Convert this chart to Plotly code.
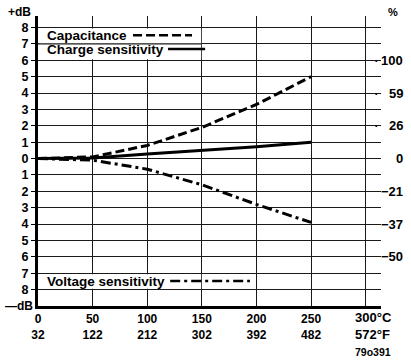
import plotly.graph_objects as go

# ---- data ----
temp_c = [0, 50, 100, 150, 200, 250]
capacitance_db = [0.0, 0.1, 0.8, 1.9, 3.3, 5.0]
charge_db = [0.0, 0.03, 0.28, 0.5, 0.72, 1.0]
voltage_db = [0.0, -0.1, -0.65, -1.6, -2.8, -3.9]

x_ticks_c = [0, 50, 100, 150, 200, 250]
x_ticks_f = [32, 122, 212, 302, 392, 482]
last_c, last_f = 300, 572

db_ticks = list(range(-8, 9))
db_labels = [str(abs(v)) for v in db_ticks]

pct_db = [6, 4, 2, 0, -2, -4, -6]
pct_labels = ["100", "59", "26", "0", "\u221221", "\u221237", "\u221250"]
pct_dots = [6, 4, 2]

legend_names = ["Capacitance", "Charge sensitivity", "Voltage sensitivity"]

# ---- layout constants ----
W, H = 411, 363
ML, MR, MT, MB = 38, 30, 16, 57
PW = W - ML - MR
FONT = "Liberation Sans, Arial, sans-serif"


def px2paper(px):
    return (px - ML) / PW


fig = go.Figure()

line_style = dict(color="black", width=3)
fig.add_trace(go.Scatter(x=temp_c, y=capacitance_db, mode="lines",
                         line=dict(line_style, dash="9px,4px"), name=legend_names[0]))
fig.add_trace(go.Scatter(x=temp_c, y=charge_db, mode="lines",
                         line=line_style, name=legend_names[1]))
fig.add_trace(go.Scatter(x=temp_c, y=voltage_db, mode="lines",
                         line=dict(line_style, dash="10px,4px,3px,4px"), name=legend_names[2]))

shapes = []
# white legend boxes (above grid, below traces)
shapes.append(dict(type="rect", xref="x", yref="y", x0=0.9, x1=149.4, y0=6.06, y1=7.94,
                   fillcolor="white", line=dict(width=0), layer="between"))
shapes.append(dict(type="rect", xref="x", yref="y", x0=0.9, x1=149.4, y0=-7.94, y1=-7.06,
                   fillcolor="white", line=dict(width=0), layer="between"))
# horizontal line through the upper box
shapes.append(dict(type="line", xref="x", yref="y", x0=0, x1=150, y0=7, y1=7,
                   line=dict(color="#1a1a1a", width=1.4), layer="between"))
# legend samples
shapes.append(dict(type="line", xref="x", yref="y", x0=87, x1=141, y0=7.52, y1=7.52,
                   line=dict(color="black", width=2.5, dash="9px,4px")))
shapes.append(dict(type="line", xref="x", yref="y", x0=119, x1=153, y0=6.68, y1=6.68,
                   line=dict(color="black", width=2.5)))
shapes.append(dict(type="line", xref="x", yref="y", x0=121, x1=194, y0=-7.48, y1=-7.48,
                   line=dict(color="black", width=2.5, dash="10px,4px,3px,4px")))

bold = dict(family=FONT, size=13.5, color="black", weight="bold")
annotations = []
for i, (name, yv) in enumerate(zip(legend_names, [7.52, 6.66, -7.48])):
    annotations.append(dict(x=6.2, y=yv, xref="x", yref="y", text=name, showarrow=False,
                            xanchor="left", yanchor="middle", font=bold))

# right % scale
for v, lab in zip(pct_db, pct_labels):
    annotations.append(dict(x=px2paper(405), y=v, xref="paper", yref="y", text=lab,
                            showarrow=False, xanchor="right", yanchor="middle",
                            font=dict(family=FONT, size=13, color="black", weight="bold")))
for v in pct_dots:
    annotations.append(dict(x=px2paper(376), y=v, xref="paper", yref="y", text="\u2022",
                            showarrow=False, xanchor="center", yanchor="middle",
                            font=dict(family=FONT, size=7, color="black")))
annotations.append(dict(x=px2paper(393), y=1, xref="paper", yref="paper", yshift=4,
                        text="%", showarrow=False, xanchor="center", yanchor="middle",
                        font=dict(family=FONT, size=11, color="black", weight="bold")))
# dB markers
annotations.append(dict(x=px2paper(33), y=1, xref="paper", yref="paper", yshift=4,
                        text="+dB", showarrow=False, xanchor="right", yanchor="middle",
                        font=dict(family=FONT, size=12, color="black", weight="bold")))
annotations.append(dict(x=px2paper(35), y=-9, xref="paper", yref="y",
                        text="\u2014dB", showarrow=False, xanchor="right", yanchor="middle",
                        font=dict(family=FONT, size=12, color="black", weight="bold")))
# last x label
annotations.append(dict(x=last_c, y=0, xref="x", yref="paper", xshift=-13, yshift=-2,
                        text=f"{last_c}\u00b0C<br>{last_f}\u00b0F", showarrow=False,
                        xanchor="left", yanchor="top", align="left",
                        font=dict(family=FONT, size=13, color="black", weight="bold")))
annotations.append(dict(x=last_c, y=0, xref="x", yref="paper", xshift=-13, yshift=-38,
                        text="79o391", showarrow=False, xanchor="left", yanchor="top",
                        font=dict(family=FONT, size=10.5, color="black", weight="bold")))

fig.update_layout(
    width=W, height=H,
    margin=dict(l=ML, r=MR, t=MT, b=MB, pad=0),
    paper_bgcolor="white", plot_bgcolor="white",
    showlegend=False,
    shapes=shapes, annotations=annotations,
    xaxis=dict(range=[0, 314], tickvals=x_ticks_c + [last_c],
               ticktext=[f"{c}<br>{f}" for c, f in zip(x_ticks_c, x_ticks_f)] + [""],
               showgrid=True, gridcolor="#1a1a1a", gridwidth=1.4,
               showline=True, linecolor="black", linewidth=3, zeroline=False,
               ticks="", tickfont=dict(family=FONT, size=12, color="black", weight="bold")),
    yaxis=dict(range=[-9, 8.7], tickvals=db_ticks, ticktext=db_labels,
               showgrid=True, gridcolor="#1a1a1a", gridwidth=1.4,
               showline=True, linecolor="black", linewidth=3, zeroline=False,
               ticks="outside", ticklen=4, tickwidth=1.4, tickcolor="black",
               tickfont=dict(family=FONT, size=12.5, color="black", weight="bold")),
)

fig.write_html("out.html", config={"displayModeBar": False},
               post_script="document.body.style.margin='0';document.body.style.overflow='hidden';")
